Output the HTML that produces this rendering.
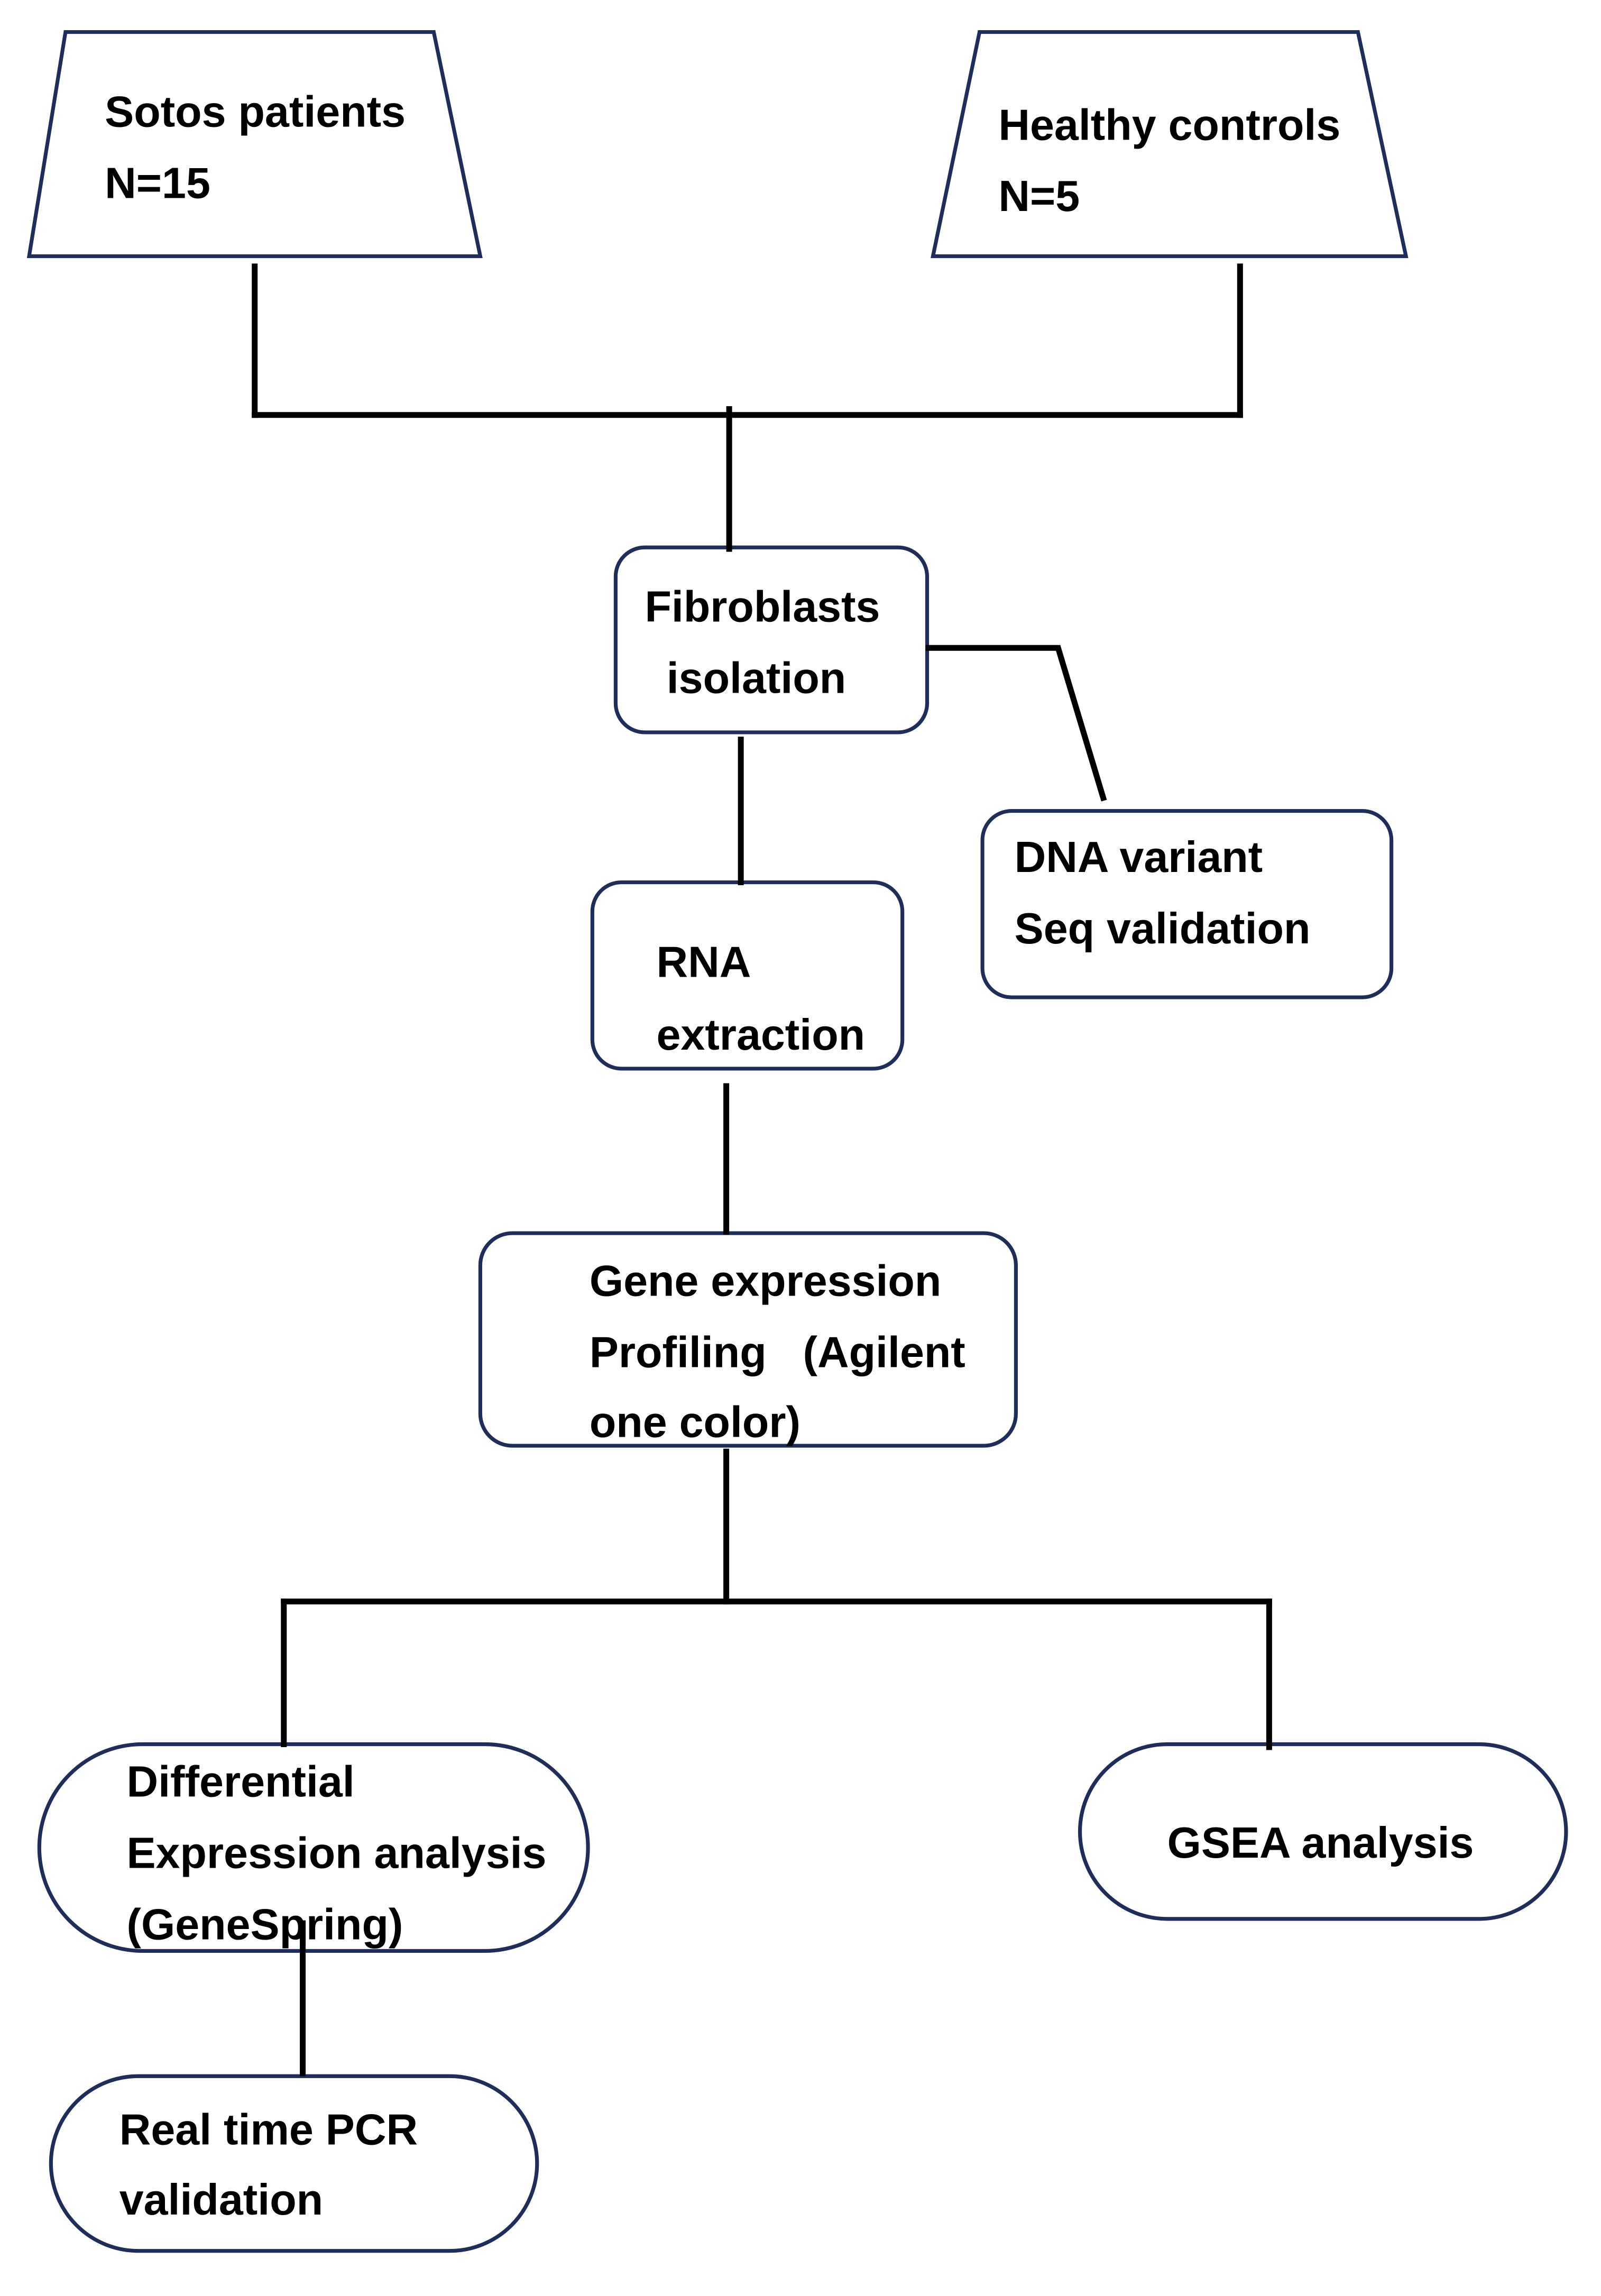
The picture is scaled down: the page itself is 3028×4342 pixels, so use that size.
<!DOCTYPE html>
<html><head><meta charset="utf-8"><style>
html,body{margin:0;padding:0;background:#fff;}
svg{display:block;}
text{font-family:"Liberation Sans",Arial,sans-serif;font-weight:bold;font-size:30px;fill:#000;}
</style></head><body>
<svg width="3028" height="4342" viewBox="0 0 1100 1577" preserveAspectRatio="none" xmlns="http://www.w3.org/2000/svg">
<rect width="1100" height="1577" fill="#fff"/>
<g fill="#fff" stroke="#1f2d5a" stroke-width="2.6">
<polygon points="45,22 298,22 330,176 20,176"/>
<polygon points="673,22 933,22 966,176 641,176"/>
<rect x="423" y="376" width="214" height="127" rx="20"/>
<rect x="675" y="557" width="281" height="128" rx="20"/>
<rect x="407" y="606" width="213" height="128" rx="20"/>
<rect x="330" y="847" width="368" height="146" rx="22"/>
<rect x="27" y="1198" width="377" height="142" rx="71"/>
<rect x="742" y="1198" width="334" height="120" rx="60"/>
<rect x="35" y="1426" width="334" height="120" rx="60"/>
</g>
<g stroke="#000" stroke-width="4" fill="none" stroke-linecap="square">
<line x1="175" y1="183" x2="175" y2="285"/>
<line x1="852" y1="183" x2="852" y2="285"/>
<line x1="175" y1="285" x2="852" y2="285"/>
<line x1="501" y1="281" x2="501" y2="377"/>
<polyline points="638,445 727,445 758,548"/>
<line x1="509" y1="508" x2="509" y2="606"/>
<line x1="499" y1="746" x2="499" y2="846"/>
<line x1="499" y1="997" x2="499" y2="1100"/>
<line x1="195" y1="1100" x2="872" y2="1100"/>
<line x1="195" y1="1100" x2="195" y2="1198"/>
<line x1="872" y1="1100" x2="872" y2="1200"/>
<line x1="208" y1="1321" x2="208" y2="1424"/>
</g>
<text x="72" y="87">Sotos patients</text>
<text x="72" y="136">N=15</text>
<text x="686" y="96">Healthy controls</text>
<text x="686" y="145">N=5</text>
<text x="443" y="427">Fibroblasts</text>
<text x="458" y="476">isolation</text>
<text x="697" y="599">DNA variant</text>
<text x="697" y="648">Seq validation</text>
<text x="451" y="671">RNA</text>
<text x="451" y="721">extraction</text>
<text x="405" y="890">Gene expression</text>
<text x="405" y="939" xml:space="preserve">Profiling   (Agilent</text>
<text x="405" y="987">one color)</text>
<text x="87" y="1234">Differential</text>
<text x="87" y="1283">Expression analysis</text>
<text x="87" y="1332">(GeneSpring)</text>
<text x="802" y="1276">GSEA analysis</text>
<text x="82" y="1473">Real time PCR</text>
<text x="82" y="1521">validation</text>
</svg>
</body></html>
